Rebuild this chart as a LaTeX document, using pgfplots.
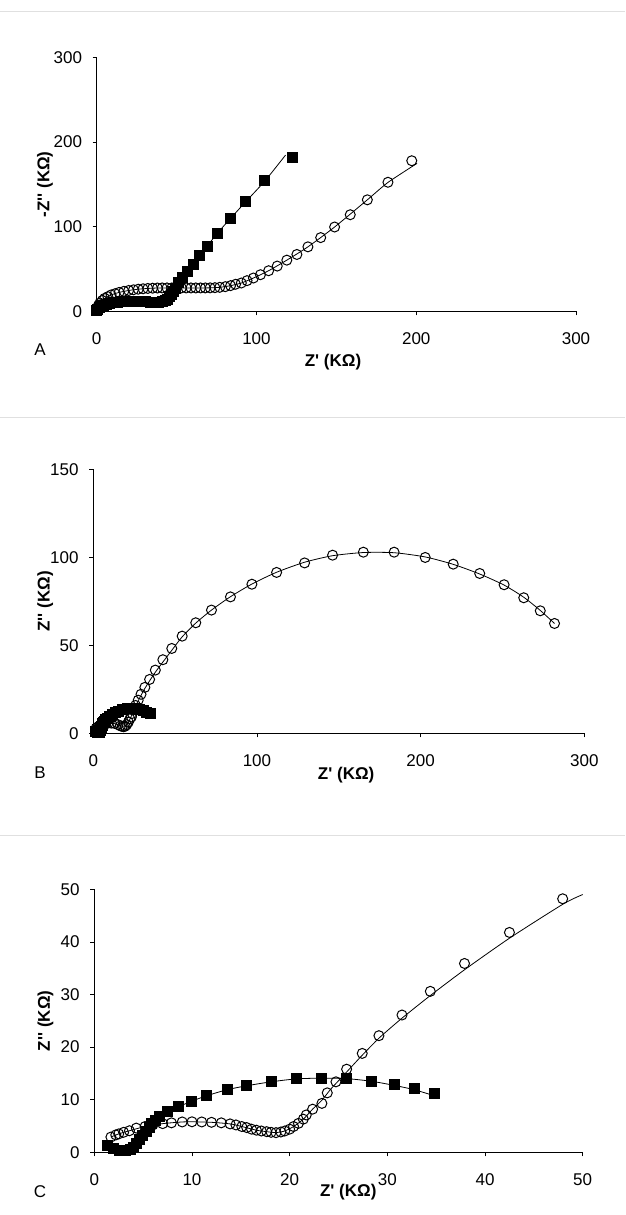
\documentclass[border=0pt]{standalone}
\usepackage{pgfplots}
\pgfplotsset{compat=1.18}
\usepackage{fontspec}
\setmainfont{Liberation Sans}
\newfontfamily\arialf{Liberation Sans}

\pgfplotstableread{
x y
0 1
0.8 2.5
1.8 4.3
3 5.8
4.5 7.2
6.3 8.4
8.3 9.4
10.5 10.3
13 11
15.7 11.6
18.5 12
21.5 12.2
24.5 12.2
27.5 11.9
30.5 11.4
33.5 10.9
36.3 10.6
38.8 10.6
41 11.2
42.8 12.5
44.3 14.5
45.6 17.3
46.9 20.5
48.1 23.8
49.3 27.3
51.3 34
53.7 40.3
56.6 46.9
60.4 55.1
64.6 66.1
69.1 77.0
75.3 91.9
83.6 109.5
93.4 129.8
105.3 154.1
122.6 181.9
}\Asq

\pgfplotstableread{
x y
0 1
0.8 2.5
1.8 4.3
3 5.8
4.5 7.2
6.3 8.4
8.3 9.4
10.5 10.3
13 11
15.7 11.6
18.5 12
21.5 12.2
24.5 12.2
27.5 11.9
30.5 11.4
33.5 10.9
36.3 10.6
38.8 10.6
41 11.2
42.8 12.5
44.3 14.5
45.6 17.3
46.9 20.5
48.1 23.8
49.3 27.3
51.3 34
53.7 40.3
56.6 46.9
60.4 55.1
64.6 66.1
69.1 77.0
75.3 91.9
83.6 109.5
93.4 129.8
105.3 154.1
118.2 184.6
}\Asqfit

\pgfplotstableread{
x y
0.5 4
1 7
2 10
3.5 13
5 15.5
7 17.5
9 19.5
11.5 21
14 22.5
17 23.8
20 24.8
23 25.6
26 26.3
29 26.8
32 27.2
35 27.5
38 27.7
41 27.8
44 27.8
47 27.8
50 27.8
53 27.8
56 27.8
59 27.8
62 27.8
65 27.8
68 27.8
71 27.9
74 28.1
77 28.5
80.5 29.3
83.8 30.5
86.9 32.1
90.5 33.6
94.1 36.4
98.1 39.5
102.5 43.4
107.6 48.1
113.0 53.6
119.0 60.6
125.3 67.3
132.2 76.3
140.2 87.2
148.9 99.7
158.7 114.2
169.4 131.8
182.3 152.5
197.2 177.9
}\Aci

\pgfplotstableread{
x y
0.5 4
2 10
5 15.5
9 19.5
14 22.5
20 24.8
26 26.3
32 27.2
38 27.7
47 27.8
56 27.8
65 27.8
71 27.9
77 28.5
83.8 30.5
90.5 33.6
98.1 39.5
107.6 48.1
119.0 60.6
132.2 76.3
148.9 99.7
169.4 131.8
182.3 152.3
200.5 174.8
}\Acifit

\pgfplotstableread{
x y
1.35 1.2
2.0 0.8
2.6 0.4
3.2 0.3
3.7 0.5
4.0 1.0
4.3 1.7
4.6 2.5
4.9 3.2
5.3 4.0
5.6 4.7
5.9 5.4
6.3 6.1
6.7 6.8
7.5 7.7
8.6 8.65
9.95 9.7
11.5 10.75
13.6 11.9
15.6 12.65
18.1 13.4
20.65 13.95
23.27 14.05
25.87 13.95
28.39 13.5
30.77 12.85
32.75 12.05
34.86 11.27
}\BCsq

\pgfplotstableread{
x y
1.35 1.2
2.6 0.4
3.7 0.5
4.3 1.7
4.9 3.2
5.6 4.7
6.3 6.1
7.5 7.7
8.6 8.65
9.95 9.7
11.5 10.75
13.6 11.9
15.6 12.65
18.1 13.4
20.65 13.95
23.27 14.1
25.87 14.0
28.39 13.5
30.77 12.7
32.75 11.9
34.9 10.7
}\BCsqfit

\pgfplotstableread{
x y
1.7 2.9
2.2 3.3
2.5 3.5
3.0 3.8
3.6 4.1
4.3 4.6
5.2 4.9
6.0 5.2
7.0 5.45
7.9 5.6
9.0 5.77
10.0 5.8
11.0 5.77
12.0 5.7
13.0 5.6
13.9 5.4
14.5 5.2
15.1 4.9
15.6 4.7
16.1 4.4
16.6 4.2
17.1 4.05
17.65 3.92
18.1 3.8
18.6 3.73
19.1 3.86
19.5 4.05
20.0 4.4
20.4 4.9
20.9 5.5
21.4 6.3
21.7 7.1
22.35 8.2
23.3 9.3
23.85 11.3
24.74 13.4
25.83 15.8
27.43 18.8
29.14 22.17
31.5 26.1
34.4 30.6
37.9 35.9
42.5 41.8
47.95 48.2
}\Cci

\pgfplotstableread{
x y
1.7 2.9
2.5 3.5
3.6 4.1
5.2 4.9
7.0 5.45
9.0 5.77
10.0 5.8
12.0 5.7
13.9 5.4
15.1 4.9
16.6 4.2
17.65 3.92
18.6 3.75
19.5 4.05
20.4 4.9
21.4 6.3
22.35 8.2
23.3 9.9
24.2 12.0
25.0 13.6
25.9 15.4
27.4 18.4
29.2 21.8
31.5 25.5
34.4 29.8
37.9 34.7
42.5 40.7
48 47.2
50 49
}\Ccifit

\pgfplotstableread{
x y
1.7 2.9
2.5 3.5
3.6 4.1
5.2 4.9
7.0 5.45
9.0 5.77
11.0 5.77
13.0 5.6
15.1 4.9
16.6 4.2
17.65 3.92
18.6 3.73
19.5 4.05
20.4 4.9
21.4 6.3
22.35 8.2
23.3 9.3
23.85 11.3
24.74 13.4
25.83 15.8
27.43 18.8
29.14 22.17
31.5 26.1
34.4 30.6
37.9 35.9
42.5 41.8
47.95 48.2
54.3 55.2
62.6 62.8
72.2 70.0
83.8 77.5
96.9 84.7
112.0 91.4
129.1 96.8
146.2 101.2
165.0 102.9
183.8 102.9
202.8 99.9
219.9 96.1
236.1 90.8
251.0 84.4
263.0 77.0
273.1 69.6
281.8 62.4
}\Bci

\pgfplotstableread{
x y
1.7 2.9
3.6 4.1
5.2 4.9
7.0 5.45
9.0 5.77
12.0 5.7
15.1 4.9
17.65 3.92
19.5 4.05
21.4 6.3
23.3 9.9
25.0 13.6
27.4 18.4
31.5 25.5
37.9 34.7
48 47.2
54.3 54.8
62.6 62.6
72.2 70.0
83.8 77.6
96.9 84.8
112.0 91.5
129.1 97.2
146.2 100.9
165.0 102.7
183.8 102.6
202.8 100.2
219.9 96.0
236.1 90.5
251.0 84.2
263.0 77.3
273.1 69.8
281.8 62.4
}\Bcifit

\pgfplotsset{
  eis/.style={
    scale only axis, clip=false,
    axis x line*=bottom, axis y line*=left,
    axis line style={-, black, line width=0.8pt},
    tick align=outside, major tick length=4pt,
    tick style={black, line width=0.8pt},
    minor tick num=0,
    font=\fontsize{17}{20}\selectfont,
    tick label style={font=\fontsize{17}{20}\selectfont},
    /pgf/number format/assume math mode=true,
    /pgf/number format/1000 sep={},
    yticklabel style={anchor=east, inner sep=0pt, xshift=-10.5pt},
    xticklabel style={anchor=center, inner sep=0pt, yshift=-23pt},
    label style={font=\arialf\bfseries\fontsize{17}{20}\selectfont},
    ylabel style={rotate=0, anchor=center},
    xlabel style={anchor=center},
  },
  circ/.style={only marks, mark=o, mark size=5pt, mark options={black, line width=1pt}},
  sq/.style={only marks, mark=square*, mark size=5pt, mark options={black, fill=black, line width=0pt}},
  fit/.style={no marks, black, line width=0.8pt, smooth, tension=0.4},
}

\begin{document}
\begin{tikzpicture}[x=1pt,y=1pt]
\useasboundingbox (0,0) rectangle (625,1215);
\draw[black!12, line width=1pt] (0,1203) -- (625,1203);
\draw[black!12, line width=1pt] (0,797) -- (625,797);
\draw[black!12, line width=1pt] (0,379) -- (625,379);

% Panel A
\begin{axis}[eis, at={(96.7pt,903.5pt)}, anchor=south west,
  width=479.3pt, height=254.2pt,
  xmin=0, xmax=300, ymin=0, ymax=300,
  xtick={0,100,200,300}, ytick={0,100,200,300},
  xlabel={Z' (KΩ)}, ylabel={-Z'' (KΩ)},
  xlabel style={at={(axis description cs:0.493,-0.1975)}},
  ylabel style={at={(axis description cs:-0.108,0.5)}},
]
\addplot[fit] table {\Acifit};
\addplot[fit] table {\Asqfit};
\addplot[circ] table {\Aci};
\addplot[sq] table {\Asq};
\end{axis}

% Panel B
\begin{axis}[eis, at={(93.3pt,481.7pt)}, anchor=south west,
  width=491pt, height=264pt,
  xmin=0, xmax=300, ymin=0, ymax=150,
  xtick={0,100,200,300}, ytick={0,50,100,150},
  xlabel={Z' (KΩ)}, ylabel={Z'' (KΩ)},
  xlabel style={at={(axis description cs:0.515,-0.158)}},
  ylabel style={at={(axis description cs:-0.098,0.5)}},
]
\addplot[fit] table {\Bcifit};
\addplot[fit] table {\BCsqfit};
\addplot[circ] table {\Bci};
\addplot[sq] table {\BCsq};
\end{axis}

% Panel C
\begin{axis}[eis, at={(94.3pt,62.7pt)}, anchor=south west,
  width=488.4pt, height=263pt,
  xmin=0, xmax=50, ymin=0, ymax=50,
  xtick={0,10,20,30,40,50}, ytick={0,10,20,30,40,50},
  xlabel={Z' (KΩ)}, ylabel={Z'' (KΩ)},
  xlabel style={at={(axis description cs:0.52,-0.15)}},
  ylabel style={at={(axis description cs:-0.1,0.5)}},
]
\addplot[fit] table {\Ccifit};
\addplot[fit] table {\BCsqfit};
\addplot[circ] table {\Cci};
\addplot[sq] table {\BCsq};
\end{axis}

\node[font=\arialf\fontsize{17}{20}\selectfont, anchor=center] at (40,865) {A};
\node[font=\arialf\fontsize{17}{20}\selectfont, anchor=center] at (40,442) {B};
\node[font=\arialf\fontsize{17}{20}\selectfont, anchor=center] at (40,23) {C};
\end{tikzpicture}
\end{document}
